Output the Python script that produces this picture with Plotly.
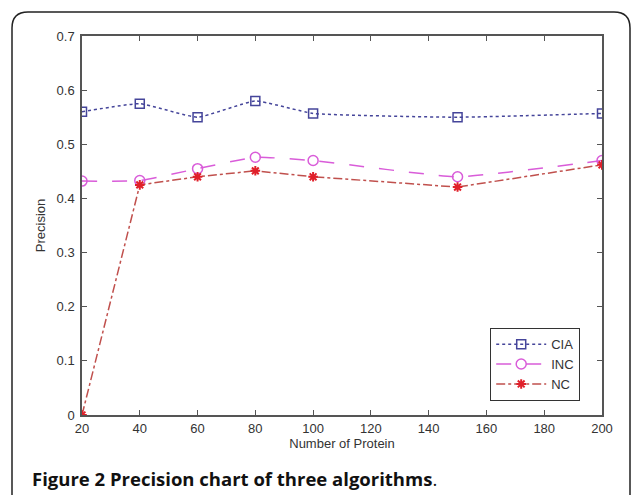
import plotly.graph_objects as go

proteins = [20, 40, 60, 80, 100, 150, 200]
cia = [0.560, 0.575, 0.550, 0.580, 0.557, 0.550, 0.557]
inc = [0.432, 0.433, 0.455, 0.476, 0.470, 0.440, 0.470]
nc = [0.0, 0.425, 0.440, 0.451, 0.440, 0.421, 0.462]

x_ticks = [20, 40, 60, 80, 100, 120, 140, 160, 180, 200]
y_ticks = [0, 0.1, 0.2, 0.3, 0.4, 0.5, 0.6, 0.7]

W, H = 632, 495
L, R, T, B = 82, 30, 36, 80
pw, ph = W - L - R, H - T - B

def px(x):
    return (x - L) / pw

def py(y):
    return (H - B - y) / ph

fig = go.Figure()
fig.add_trace(go.Scatter(
    x=proteins, y=cia, name="CIA", mode="lines+markers",
    line=dict(color="#45459a", width=1.5, dash="dot", shape="spline", smoothing=0.4),
    marker=dict(symbol="square-open", size=9, color="#45459a", line=dict(width=1.5)),
))
fig.add_trace(go.Scatter(
    x=proteins, y=inc, name="INC", mode="lines+markers",
    line=dict(color="#d95cd9", width=1.5, dash="longdash", shape="spline", smoothing=0.4),
    marker=dict(symbol="circle-open", size=10, color="#d95cd9", line=dict(width=1.5)),
))
fig.add_trace(go.Scatter(
    x=proteins, y=nc, name="NC", mode="lines+markers",
    line=dict(color="#c0504d", width=1.5, dash="dashdot"),
    marker=dict(symbol="asterisk-open", size=8, color="#e0202a", line=dict(width=2, color="#e0202a")),
))

tick_font = dict(family="Liberation Sans, Arial", size=13, color="#333333")
axis_common = dict(
    showline=True, linecolor="#555555", linewidth=1.5, mirror="ticks",
    ticks="inside", ticklen=5, tickcolor="#555555", tickwidth=1.2,
    showgrid=False, zeroline=False, tickfont=tick_font,
)

fig.update_xaxes(
    range=[20, 200], tickvals=x_ticks, ticktext=[str(v) for v in x_ticks],
    ticklabelstandoff=1,
    title=dict(text="Number of Protein", standoff=2, font=tick_font),
    **axis_common,
)
fig.update_yaxes(
    range=[0, 0.7], tickvals=y_ticks, ticktext=["0", "0.1", "0.2", "0.3", "0.4", "0.5", "0.6", "0.7"],
    ticklabelstandoff=3,
    title=dict(text="Precision", standoff=8, font=tick_font),
    **axis_common,
)

# rounded figure frame
x0, y0, x1, y1, r = 12, 12, 630, 505, 16
path = (
    f"M {px(x0)},{py(y1)} L {px(x0)},{py(y0 + r)} "
    f"Q {px(x0)},{py(y0)} {px(x0 + r)},{py(y0)} "
    f"L {px(x1 - r)},{py(y0)} Q {px(x1)},{py(y0)} {px(x1)},{py(y0 + r)} "
    f"L {px(x1)},{py(y1)}"
)
fig.add_shape(type="path", path=path, xref="paper", yref="paper",
              line=dict(color="#222222", width=1.5), layer="below")

fig.add_annotation(
    x=px(30), y=py(478), xref="paper", yref="paper",
    xanchor="left", yanchor="middle", showarrow=False,
    text="<b>Figure 2 Precision chart of three algorithms</b>.",
    font=dict(family="Open Sans", size=18.5, color="#111111"),
)

fig.update_layout(
    width=W, height=H,
    margin=dict(l=L, r=R, t=T, b=B),
    paper_bgcolor="white", plot_bgcolor="white",
    showlegend=True,
    legend=dict(
        x=px(490), y=py(328), xanchor="left", yanchor="top",
        bordercolor="#333333", borderwidth=1.2, bgcolor="white",
        font=tick_font, tracegroupgap=0, itemwidth=50,
    ),
)

fig.write_html("out.html")
